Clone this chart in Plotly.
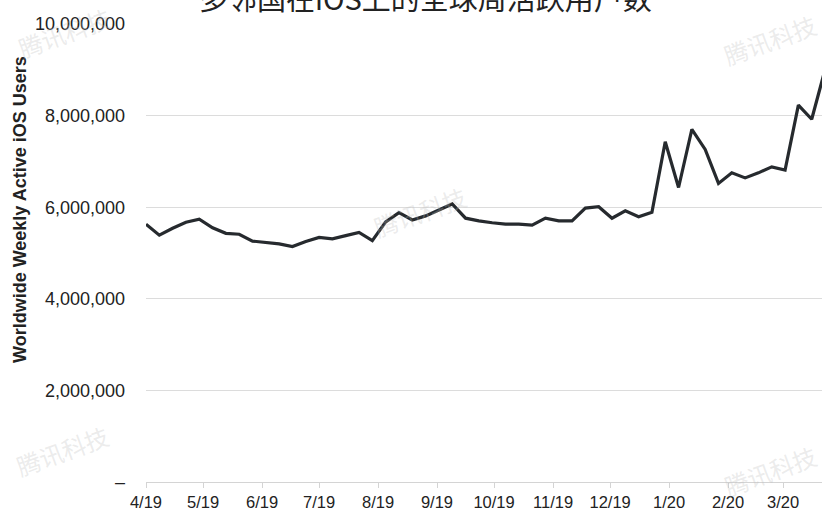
import plotly.graph_objects as go
import pandas as pd

title_text = "多邻国在iOS上的全球周活跃用户数"
y_title = "Worldwide Weekly Active iOS Users"
watermark = "腾讯科技"

start_date = "2019-04-01"
weekly_users_m = [
    5.63, 5.39, 5.54, 5.67, 5.74, 5.55, 5.43, 5.41, 5.26, 5.23,
    5.20, 5.14, 5.25, 5.34, 5.31, 5.38, 5.45, 5.27, 5.68, 5.88,
    5.72, 5.81, 5.94, 6.07, 5.76, 5.70, 5.66, 5.63, 5.63, 5.61,
    5.76, 5.70, 5.70, 5.98, 6.01, 5.76, 5.92, 5.79, 5.89, 7.43,
    6.43, 7.70, 7.26, 6.52, 6.75, 6.64, 6.75, 6.88, 6.81, 8.23,
    7.92, 9.00,
]
dates = pd.date_range(start_date, periods=len(weekly_users_m), freq="7D")
users = [v * 1_000_000 for v in weekly_users_m]

month_ticks = pd.date_range("2019-04-01", "2020-03-01", freq="MS")
month_labels = [f"{d.month}/{d.strftime('%y')}" for d in month_ticks]

y_tickvals = [0, 2_000_000, 4_000_000, 6_000_000, 8_000_000, 10_000_000]
y_ticktext = ["–", "2,000,000", "4,000,000", "6,000,000", "8,000,000", "10,000,000"]

W, H = 822, 513
L, R, T, B = 146, 0, 24, 31

fig = go.Figure()
fig.add_trace(go.Scatter(
    x=dates, y=users, mode="lines",
    line=dict(color="#262a2e", width=3.2),
    showlegend=False, hoverinfo="skip",
))

font = "Liberation Sans, Arial, sans-serif"
fig.update_layout(
    width=W, height=H,
    margin=dict(l=L, r=R, t=T, b=B),
    paper_bgcolor="white", plot_bgcolor="white",
    font=dict(family=font, color="#222222"),
    xaxis=dict(
        range=["2019-04-01", "2020-03-21 10:00"],
        tickvals=month_ticks, ticktext=month_labels,
        tickfont=dict(size=16.5, color="#222222"),
        showgrid=False, zeroline=False,
        showline=True, linecolor="#d4d4d4", linewidth=1,
        ticks="outside", ticklen=5, tickcolor="#d4d4d4",
    ),
    yaxis=dict(
        range=[0, 10_000_000],
        tickvals=y_tickvals, ticktext=y_ticktext,
        tickfont=dict(size=18, color="#222222"),
        showgrid=True, gridcolor="#dcdcdc", gridwidth=1,
        zeroline=False, showline=False, ticks="",
        ticklabelstandoff=20,
    ),
)

ph = H - T - B
def py(pix):
    return (H - B - pix) / ph

def px(pix):
    return (pix - L) / (W - L - R)

annotations = [
    dict(text=title_text, x=px(425), y=py(-3), xref="paper", yref="paper",
         showarrow=False, xanchor="center", yanchor="middle",
         font=dict(family="Noto Sans CJK SC", size=29, color="#222222")),
    dict(text=f"<b>{y_title}</b>", x=px(20), y=py(210), xref="paper", yref="paper",
         showarrow=False, xanchor="center", yanchor="middle", textangle=-90,
         font=dict(family=font, size=18, color="#222222")),
]
for (wx, wy) in [(64, 32), (420, 212), (62, 450), (770, 470), (770, 40)]:
    annotations.append(dict(
        text=watermark, x=px(wx), y=py(wy), xref="paper", yref="paper",
        showarrow=False, textangle=-20, xanchor="center", yanchor="middle",
        font=dict(family="Noto Sans CJK SC", size=24, color="rgba(190,190,190,0.3)"),
    ))
fig.update_layout(annotations=annotations)

fig.write_html(
    "out.html",
    config={"displayModeBar": False, "staticPlot": True},
    post_script="document.body.style.margin='0';document.body.style.overflow='hidden';",
)
